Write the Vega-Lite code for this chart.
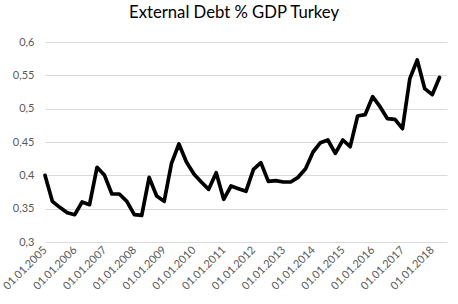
{
  "$schema": "https://vega.github.io/schema/vega-lite/v6.json",
  "width": 402,
  "height": 200,
  "autosize": "none",
  "padding": {"left": 45, "top": 42, "right": 11, "bottom": 62},
  "config": {
    "locale": {"number": {"decimal": ",", "thousands": ".", "grouping": [3], "currency": ["", "€"]}},
    "view": {"stroke": null},
    "font": "Lato"
  },
  "title": {
    "text": "External Debt % GDP Turkey",
    "font": "Lato",
    "fontSize": 16.7,
    "fontWeight": "normal",
    "color": "#000000",
    "anchor": "middle",
    "dx": -12,
    "offset": 14
  },
  "data": {
    "values": [
      {"date": "2005-01-01", "value": 0.400},
      {"date": "2005-04-01", "value": 0.361},
      {"date": "2005-07-01", "value": 0.352},
      {"date": "2005-10-01", "value": 0.344},
      {"date": "2006-01-01", "value": 0.341},
      {"date": "2006-04-01", "value": 0.360},
      {"date": "2006-07-01", "value": 0.356},
      {"date": "2006-10-01", "value": 0.412},
      {"date": "2007-01-01", "value": 0.400},
      {"date": "2007-04-01", "value": 0.372},
      {"date": "2007-07-01", "value": 0.372},
      {"date": "2007-10-01", "value": 0.361},
      {"date": "2008-01-01", "value": 0.341},
      {"date": "2008-04-01", "value": 0.340},
      {"date": "2008-07-01", "value": 0.397},
      {"date": "2008-10-01", "value": 0.369},
      {"date": "2009-01-01", "value": 0.361},
      {"date": "2009-04-01", "value": 0.418},
      {"date": "2009-07-01", "value": 0.447},
      {"date": "2009-10-01", "value": 0.420},
      {"date": "2010-01-01", "value": 0.402},
      {"date": "2010-04-01", "value": 0.390},
      {"date": "2010-07-01", "value": 0.379},
      {"date": "2010-10-01", "value": 0.404},
      {"date": "2011-01-01", "value": 0.364},
      {"date": "2011-04-01", "value": 0.384},
      {"date": "2011-07-01", "value": 0.380},
      {"date": "2011-10-01", "value": 0.376},
      {"date": "2012-01-01", "value": 0.409},
      {"date": "2012-04-01", "value": 0.419},
      {"date": "2012-07-01", "value": 0.391},
      {"date": "2012-10-01", "value": 0.392},
      {"date": "2013-01-01", "value": 0.390},
      {"date": "2013-04-01", "value": 0.390},
      {"date": "2013-07-01", "value": 0.397},
      {"date": "2013-10-01", "value": 0.410},
      {"date": "2014-01-01", "value": 0.435},
      {"date": "2014-04-01", "value": 0.449},
      {"date": "2014-07-01", "value": 0.453},
      {"date": "2014-10-01", "value": 0.433},
      {"date": "2015-01-01", "value": 0.453},
      {"date": "2015-04-01", "value": 0.443},
      {"date": "2015-07-01", "value": 0.489},
      {"date": "2015-10-01", "value": 0.491},
      {"date": "2016-01-01", "value": 0.518},
      {"date": "2016-04-01", "value": 0.503},
      {"date": "2016-07-01", "value": 0.485},
      {"date": "2016-10-01", "value": 0.484},
      {"date": "2017-01-01", "value": 0.470},
      {"date": "2017-04-01", "value": 0.545},
      {"date": "2017-07-01", "value": 0.573},
      {"date": "2017-10-01", "value": 0.530},
      {"date": "2018-01-01", "value": 0.521},
      {"date": "2018-04-01", "value": 0.547}
    ]
  },
  "mark": {"type": "line", "color": "#000000", "strokeWidth": 3.7, "strokeJoin": "round", "strokeCap": "round"},
  "encoding": {
    "x": {
      "field": "date",
      "type": "temporal",
      "scale": {
        "type": "utc",
        "domain": [
          {"year": 2005, "month": 1, "date": 1, "utc": true},
          {"year": 2018, "month": 7, "date": 1, "utc": true}
        ]
      },
      "axis": {
        "title": null,
        "values": [
          {"year": 2005, "month": 1, "date": 1, "utc": true},
          {"year": 2006, "month": 1, "date": 1, "utc": true},
          {"year": 2007, "month": 1, "date": 1, "utc": true},
          {"year": 2008, "month": 1, "date": 1, "utc": true},
          {"year": 2009, "month": 1, "date": 1, "utc": true},
          {"year": 2010, "month": 1, "date": 1, "utc": true},
          {"year": 2011, "month": 1, "date": 1, "utc": true},
          {"year": 2012, "month": 1, "date": 1, "utc": true},
          {"year": 2013, "month": 1, "date": 1, "utc": true},
          {"year": 2014, "month": 1, "date": 1, "utc": true},
          {"year": 2015, "month": 1, "date": 1, "utc": true},
          {"year": 2016, "month": 1, "date": 1, "utc": true},
          {"year": 2017, "month": 1, "date": 1, "utc": true},
          {"year": 2018, "month": 1, "date": 1, "utc": true}
        ],
        "format": "%d.%m.%Y",
        "grid": false,
        "ticks": false,
        "domain": false,
        "labelAngle": -45,
        "labelAlign": "right",
        "labelBaseline": "middle",
        "labelPadding": 6,
        "labelFont": "Lato",
        "labelFontSize": 11,
        "labelColor": "#595959",
        "labelOverlap": false,
        "labelBound": false,
        "labelFlush": false
      }
    },
    "y": {
      "field": "value",
      "type": "quantitative",
      "scale": {"domain": [0.3, 0.6], "nice": false, "zero": false},
      "axis": {
        "title": null,
        "values": [0.3, 0.35, 0.4, 0.45, 0.5, 0.55, 0.6],
        "format": ".2~f",
        "grid": true,
        "gridColor": "#d9d9d9",
        "gridWidth": 1,
        "ticks": false,
        "domain": false,
        "labelPadding": 11,
        "labelFont": "Lato",
        "labelFontSize": 11,
        "labelColor": "#595959"
      }
    }
  }
}
